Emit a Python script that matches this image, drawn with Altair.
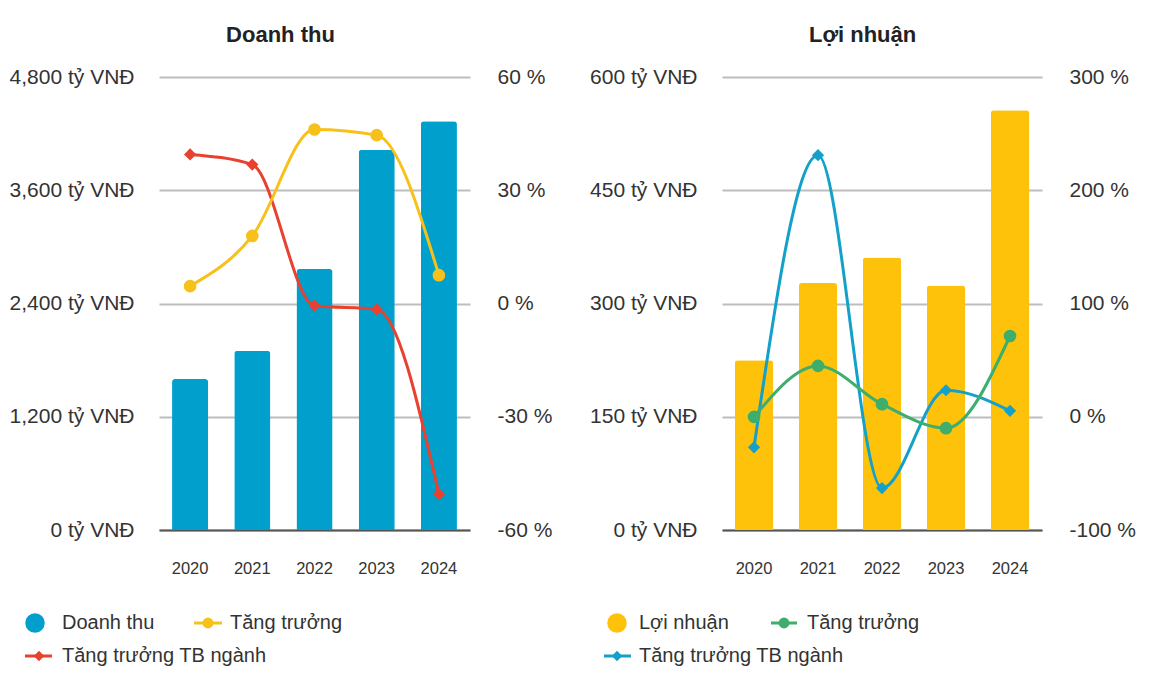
import altair as alt
import pandas as pd

FONT = "Liberation Sans"

years = ["2020", "2021", "2022", "2023", "2024"]

# Doanh thu panel
revenue = [1600, 1900, 2765, 4030, 4330]
revenue_growth = [4.6, 17.9, 46.1, 44.6, 7.5]
revenue_industry = [39.5, 36.8, -0.6, -1.5, -50.5]
revenue_ticks = [0, 1200, 2400, 3600, 4800]
revenue_pct_ticks = [-60, -30, 0, 30, 60]

# Lợi nhuận panel
profit = [225, 327, 361, 324, 556]
profit_growth = [-0.1, 44.9, 11.1, -10.1, 71.3]
profit_industry = [-27, 231, -63, 23.4, 5.2]
profit_ticks = [0, 150, 300, 450, 600]
profit_pct_ticks = [-100, 0, 100, 200, 300]

left_legend = ["Doanh thu", "Tăng trưởng", "Tăng trưởng TB ngành"]
right_legend = ["Lợi nhuận", "Tăng trưởng", "Tăng trưởng TB ngành"]


def one(values):
    return alt.Data(values=values)


def legend_text(label, x, y):
    return alt.Chart(one([{"label": label}])).mark_text(
        align="left", baseline="middle", font=FONT, fontSize=20, color="#333333"
    ).encode(x=alt.value(x), y=alt.value(y), text=alt.Text("label:N"))


def legend_point(x, y, color, shape, size):
    return alt.Chart(one([{"k": 1}])).mark_point(
        filled=True, shape=shape, size=size, color=color, opacity=1
    ).encode(x=alt.value(x), y=alt.value(y))


def legend_rule(x1, x2, y, color):
    return alt.Chart(one([{"k": 1}])).mark_rule(color=color, strokeWidth=3).encode(
        x=alt.value(x1), x2=alt.value(x2), y=alt.value(y)
    )


def panel(title, labels, bar_vals, growth, industry, bar_color, g_color, i_color,
          yticks, pticks, width, pad, leg):
    df = pd.DataFrame({"year": years, "value": bar_vals,
                       "growth": growth, "industry": industry})
    base = alt.Chart(df)
    x = alt.X("year:N", title=None,
              scale=alt.Scale(paddingInner=pad, paddingOuter=pad / 2),
              axis=alt.Axis(labelAngle=0, ticks=False, labelPadding=30,
                            labelFontSize=16.5, labelFont=FONT, labelColor="#333333",
                            domain=True, domainColor="#555555", domainWidth=2,
                            grid=False))
    bars = base.mark_bar(color=bar_color, cornerRadiusTopLeft=3,
                         cornerRadiusTopRight=3).encode(
        x=x,
        y=alt.Y("value:Q", title=None,
                scale=alt.Scale(domain=[yticks[0], yticks[-1]], nice=False),
                axis=alt.Axis(values=yticks, domain=False, ticks=False,
                              labelExpr="format(datum.value, ',') + ' tỷ VNĐ'",
                              labelFont=FONT, labelFontSize=21, labelColor="#333333",
                              labelPadding=25, grid=True, gridColor="#bdbdbd",
                              gridWidth=2)),
    )
    pscale = alt.Scale(domain=[pticks[0], pticks[-1]], nice=False, zero=False)
    paxis = alt.Axis(orient="right", values=pticks, domain=False,
                     ticks=False, grid=False,
                     labelExpr="datum.value + ' %'", labelFont=FONT,
                     labelFontSize=21, labelColor="#333333",
                     labelPadding=27)
    g_line = base.mark_line(color=g_color, strokeWidth=3, interpolate="monotone").encode(
        x=x, y=alt.Y("growth:Q", title=None, scale=pscale, axis=paxis))
    g_pts = base.mark_point(filled=True, shape="circle", size=160, color=g_color,
                            opacity=1).encode(
        x=x, y=alt.Y("growth:Q", title=None, scale=pscale, axis=paxis))
    i_line = base.mark_line(color=i_color, strokeWidth=3, interpolate="monotone").encode(
        x=x, y=alt.Y("industry:Q", title=None, scale=pscale, axis=paxis))
    i_pts = base.mark_point(filled=True, shape="diamond", size=150, color=i_color,
                            opacity=1).encode(
        x=x, y=alt.Y("industry:Q", title=None, scale=pscale, axis=paxis))

    lines = alt.layer(i_line, i_pts, g_line, g_pts)
    (cx, tx1, rx1, rx2, dx, tx2, r2x1, r2x2, d2x, tx3) = leg
    y1, y2 = 546, 579
    legend = [
        legend_point(cx, y1, bar_color, "circle", 380),
        legend_text(labels[0], tx1, y1),
        legend_rule(rx1, rx2, y1, g_color),
        legend_point(dx, y1, g_color, "circle", 120),
        legend_text(labels[1], tx2, y1),
        legend_rule(r2x1, r2x2, y2, i_color),
        legend_point(d2x, y2, i_color, "diamond", 110),
        legend_text(labels[2], tx3, y2),
    ]
    main = alt.layer(bars, lines).resolve_scale(y="independent")
    return alt.layer(main, *legend).properties(
        width=width, height=453,
        title=alt.TitleParams(text=title, font=FONT, fontSize=22, fontWeight="bold",
                              color="#222222", anchor="middle", frame="bounds",
                              offset=19),
    )


left = panel("Doanh thu", left_legend, revenue, revenue_growth, revenue_industry,
             "#01A0CC", "#F7C11A", "#E8412F", revenue_ticks, revenue_pct_ticks,
             311, 0.42,
             (-124, -97, 35, 63, 49, 71, -134, -107, -120, -97))
right = panel("Lợi nhuận", right_legend, profit, profit_growth, profit_industry,
              "#FFC20A", "#3DAE6B", "#13A1CA", profit_ticks, profit_pct_ticks,
              320, 0.40,
              (-105, -83, 49, 75, 62, 85, -118, -91, -105, -83))

chart = alt.hconcat(left, right, spacing=37).properties(
    padding={"top": 16, "left": 1, "right": 0, "bottom": 0}
).configure(font=FONT).configure_view(stroke=None, strokeWidth=0)

chart.save("out.html", embed_options={"renderer": "svg", "actions": False})
